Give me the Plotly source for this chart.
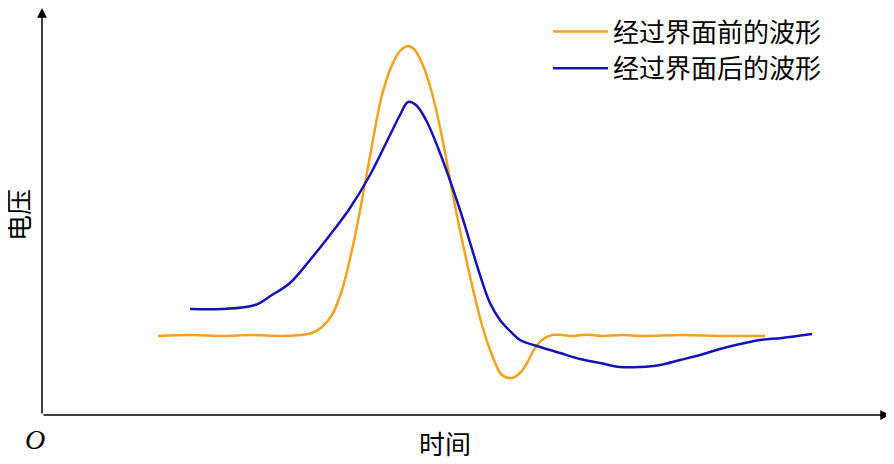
import plotly.graph_objects as go

# pixel-derived data: x = time units, y = voltage units
orange_x = [116,150,180,210,240,258,270,280,290,300,310,320,330,340,350,358,366,372,380,390,400,410,420,430,440,450,460,470,478,485,493,500,510,520,530,540,550,560,580,600,640,680,723]
orange_y = [79,80,79,80,79,80,82,88,100,125,165,215,270,320,350,364,369,366,352,322,278,225,175,130,90,60,40,37,42,52,67,75,80,80,79,80,80,79,80,79,80,79,79]
blue_x = [148,180,213,230,248,268,288,308,328,348,358,366,374,384,398,418,438,448,458,470,478,498,518,538,558,578,598,618,638,658,678,698,718,740,770]
blue_y = [106,106,110,120,132,155,180,207,240,280,300,313,310,295,262,205,140,112,95,82,75,68,62,56,52,48,48,50,55,60,66,71,75,77,81]

fig = go.Figure()
fig.add_trace(go.Scatter(x=orange_x, y=orange_y, mode="lines", line=dict(color="#F5A11F", width=2.5, shape="spline"), name="经过界面前的波形"))
fig.add_trace(go.Scatter(x=blue_x, y=blue_y, mode="lines", line=dict(color="#1414B4", width=2.5, shape="spline"), name="经过界面后的波形"))

font = "Noto Sans CJK SC"
fig.update_layout(
    width=894, height=464, margin=dict(l=34, r=12, t=0, b=57),
    plot_bgcolor="white", paper_bgcolor="white", showlegend=True,
    xaxis=dict(range=[0, 848], visible=False),
    yaxis=dict(range=[0, 407], visible=False),
    legend=dict(x=(548-42)/848, y=1.0, xanchor="left", yanchor="top", font=dict(family=font, size=26, color="black"),
                itemwidth=55, bgcolor="rgba(0,0,0,0)", tracegroupgap=0),
    annotations=[
        dict(x=848, y=0, ax=0, ay=0, xref="x", yref="y", axref="x", ayref="y", showarrow=True, arrowhead=2, arrowsize=1.3, arrowwidth=1.5, arrowcolor="black", text=""),
        dict(x=0, y=407, ax=0, ay=0, xref="x", yref="y", axref="x", ayref="y", showarrow=True, arrowhead=2, arrowsize=1.3, arrowwidth=1.5, arrowcolor="black", text=""),
        dict(x=35, y=440, text="<i>O</i>", showarrow=False, font=dict(family="Liberation Serif", size=28, color="black")),
        dict(x=445, y=443, text="时间", showarrow=False, font=dict(family=font, size=26, color="black")),
        dict(x=18, y=215, text="电压", textangle=-90, showarrow=False, font=dict(family=font, size=26, color="black")),
    ],
)
for a in fig.layout.annotations[2:]:
    a.xref = "paper"; a.yref = "paper"
    a.xanchor = "center"; a.yanchor = "middle"
    a.x = (a.x - 42) / 848
    a.y = (415 - a.y) / 407
fig.write_html("out.html")
